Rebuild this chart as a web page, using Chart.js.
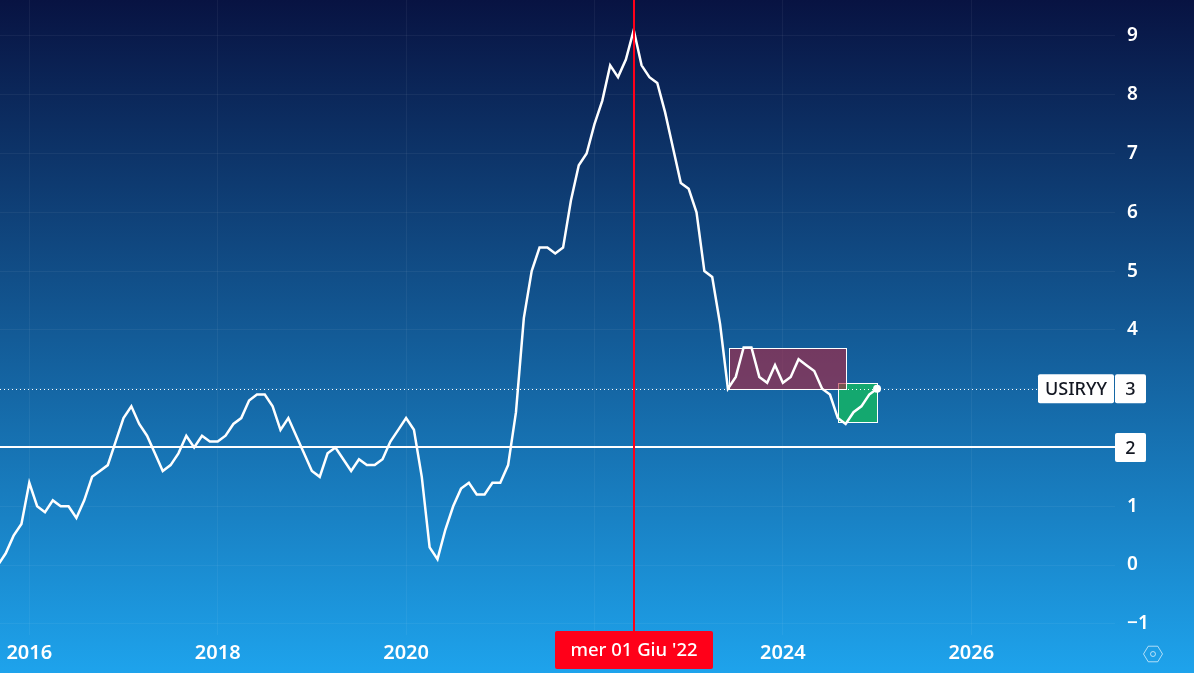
<!DOCTYPE html>
<html>
<head>
<meta charset="utf-8">
<title>USIRYY</title>
<script src="https://cdn.jsdelivr.net/npm/chart.js@4/dist/chart.umd.min.js"></script>
<style>
  html, body { margin: 0; padding: 0; background: #1ea2eb; overflow: hidden; }
  canvas { display: block; }
</style>
</head>
<body>
<canvas id="myChart" width="1194" height="673"></canvas>
<script>
// monthly values, first one is Sep 2015
var startYear = 2015;
var startMonth = 8;
var inflation = [
    0.0, 0.2, 0.5, 0.7,
    1.4, 1.0, 0.9, 1.1, 1.0, 1.0, 0.8, 1.1, 1.5, 1.6, 1.7, 2.1,
    2.5, 2.7, 2.4, 2.2, 1.9, 1.6, 1.7, 1.9, 2.2, 2.0, 2.2, 2.1,
    2.1, 2.2, 2.4, 2.5, 2.8, 2.9, 2.9, 2.7, 2.3, 2.5, 2.2, 1.9,
    1.6, 1.5, 1.9, 2.0, 1.8, 1.6, 1.8, 1.7, 1.7, 1.8, 2.1, 2.3,
    2.5, 2.3, 1.5, 0.3, 0.1, 0.6, 1.0, 1.3, 1.4, 1.2, 1.2, 1.4,
    1.4, 1.7, 2.6, 4.2, 5.0, 5.4, 5.4, 5.3, 5.4, 6.2, 6.8, 7.0,
    7.5, 7.9, 8.5, 8.3, 8.6, 9.1, 8.5, 8.3, 8.2, 7.7, 7.1, 6.5,
    6.4, 6.0, 5.0, 4.9, 4.1, 3.0, 3.2, 3.7, 3.7, 3.2, 3.1, 3.4,
    3.1, 3.2, 3.5, 3.4, 3.3, 3.0, 2.9, 2.5, 2.4, 2.6, 2.7, 2.9,
    3.0
];
var yearTicks = [2016, 2018, 2020, 2022, 2024, 2026];
var hiddenYearLabels = [2022];
var valueTicks = [-1, 0, 1, 2, 3, 4, 5, 6, 7, 8, 9];
var boxedValues = [2, 3];
var xRange = [2015.689, 2027.526];
var yRange = [-1.19, 9.612];

var seriesName = 'USIRYY';
var lastValue = 3;
var targetValue = 2;
var cursorYear = 2022.417;
var cursorLabel = "mer 01 Giu '22";
// [x from, x to, y from, y to]
var greenBox = [2024.583, 2025.0, 2.43, 3.1];
var purpleBox = [2023.425, 2024.667, 3.0, 3.7];

var points = inflation.map(function(v, i) {
    return { x: startYear + (startMonth + i) / 12, y: v };
});

var fontName = '"Noto Sans", sans-serif';

function drawBox(ctx, chart, box, fill) {
    var x = chart.scales.x, y = chart.scales.y;
    var left = Math.round(x.getPixelForValue(box[0])) + 0.5;
    var right = Math.round(x.getPixelForValue(box[1])) + 0.5;
    var top = Math.round(y.getPixelForValue(box[3])) + 0.5;
    var bottom = Math.round(y.getPixelForValue(box[2])) + 0.5;
    ctx.fillStyle = fill;
    ctx.fillRect(left, top, right - left, bottom - top);
    ctx.strokeStyle = '#ffffff';
    ctx.lineWidth = 1;
    ctx.strokeRect(left, top, right - left, bottom - top);
}

function tag(ctx, left, top, w, h, text, color, textColor, font) {
    ctx.fillStyle = color;
    ctx.beginPath();
    ctx.roundRect(left, top, w, h, 2);
    ctx.fill();
    ctx.fillStyle = textColor;
    ctx.font = font;
    ctx.textAlign = 'center';
    ctx.textBaseline = 'middle';
    ctx.fillText(text, left + w / 2, top + h / 2 + 1);
}

var decorations = {
    id: 'decorations',
    beforeDraw: function(chart) {
        var ctx = chart.ctx;
        var g = ctx.createLinearGradient(0, 0, 0, chart.height);
        g.addColorStop(0, '#081342');
        g.addColorStop(1, '#1ea3ec');
        ctx.fillStyle = g;
        ctx.fillRect(0, 0, chart.width, chart.height);
    },
    beforeDatasetsDraw: function(chart) {
        var ctx = chart.ctx;
        var y = chart.scales.y;
        ctx.save();
        drawBox(ctx, chart, greenBox, '#14a86f');
        drawBox(ctx, chart, purpleBox, 'rgba(180,33,58,0.6)');

        // dotted last value line, solid target line
        var y3 = Math.round(y.getPixelForValue(lastValue)) + 0.5;
        ctx.strokeStyle = '#ffffff';
        ctx.lineWidth = 1;
        ctx.setLineDash([1, 3]);
        ctx.beginPath();
        ctx.moveTo(0, y3);
        ctx.lineTo(1038, y3);
        ctx.stroke();
        ctx.setLineDash([]);
        var y2 = Math.round(y.getPixelForValue(targetValue));
        ctx.lineWidth = 2;
        ctx.beginPath();
        ctx.moveTo(0, y2);
        ctx.lineTo(1115, y2);
        ctx.stroke();
        ctx.restore();
    },
    afterDatasetsDraw: function(chart) {
        var ctx = chart.ctx;
        var x = chart.scales.x, y = chart.scales.y;
        ctx.save();

        var cx = Math.round(x.getPixelForValue(cursorYear));
        ctx.strokeStyle = '#ff0019';
        ctx.lineWidth = 2;
        ctx.beginPath();
        ctx.moveTo(cx, 0);
        ctx.lineTo(cx, 632);
        ctx.stroke();
        tag(ctx, 555, 631, 158, 38, cursorLabel, '#ff0019', '#ffffff', '500 18.5px ' + fontName);

        var font = '500 18px ' + fontName;
        var y3 = y.getPixelForValue(lastValue);
        var y2 = y.getPixelForValue(targetValue);
        tag(ctx, 1038, y3 - 14.5, 76, 29, seriesName, '#ffffff', '#131722', font);
        tag(ctx, 1115, y3 - 14.5, 31, 29, String(lastValue), '#ffffff', '#131722', font);
        tag(ctx, 1115, y2 - 14.5, 31, 29, String(targetValue), '#ffffff', '#131722', font);

        // settings icon, bottom right
        ctx.strokeStyle = 'rgba(255,255,255,0.65)';
        ctx.lineWidth = 1;
        ctx.beginPath();
        for (var i = 0; i < 6; i++) {
            var a = Math.PI / 3 * i;
            var px = 1153 + 9.5 * Math.cos(a), py = 654 + 9 * Math.sin(a);
            if (i == 0) ctx.moveTo(px, py); else ctx.lineTo(px, py);
        }
        ctx.closePath();
        ctx.stroke();
        ctx.beginPath();
        ctx.arc(1153, 654, 2.5, 0, Math.PI * 2);
        ctx.stroke();
        ctx.restore();
    }
};

var myChart = new Chart(document.getElementById('myChart').getContext('2d'), {
    type: 'line',
    data: {
        datasets: [{
            label: seriesName,
            data: points,
            borderColor: '#ffffff',
            backgroundColor: '#ffffff',
            borderWidth: 2.5,
            tension: 0,
            pointRadius: function(c) { return c.dataIndex == points.length - 1 ? 4 : 0; },
            pointBorderWidth: 0
        }]
    },
    options: {
        responsive: false,
        animation: false,
        layout: { padding: 0, autoPadding: false },
        plugins: { legend: { display: false }, tooltip: { enabled: false } },
        scales: {
            x: {
                type: 'linear',
                min: xRange[0],
                max: xRange[1],
                afterBuildTicks: function(s) { s.ticks = yearTicks.map(function(v) { return { value: v }; }); },
                afterFit: function(s) {
                    s.height = 38;
                    s.paddingLeft = 0;
                    s.paddingRight = 0;
                },
                grid: { color: 'rgba(255,255,255,0.05)', tickLength: 0 },
                border: { display: false },
                ticks: {
                    autoSkip: false,
                    maxRotation: 0,
                    padding: 6,
                    color: '#ffffff',
                    font: { family: fontName, size: 20, weight: '600' },
                    callback: function(v) { return hiddenYearLabels.indexOf(v) >= 0 ? '' : String(v); }
                }
            },
            y: {
                position: 'right',
                min: yRange[0],
                max: yRange[1],
                afterBuildTicks: function(s) { s.ticks = valueTicks.map(function(v) { return { value: v }; }); },
                afterFit: function(s) {
                    s.width = 79;
                    s.paddingTop = 0;
                    s.paddingBottom = 0;
                },
                grid: { color: 'rgba(255,255,255,0.05)', tickLength: 0 },
                border: { display: false },
                ticks: {
                    padding: 12,
                    crossAlign: 'near',
                    color: '#ffffff',
                    font: { family: fontName, size: 19, weight: '600' },
                    callback: function(v) {
                        if (boxedValues.indexOf(v) >= 0) return '';
                        return v < 0 ? '\u2212' + Math.abs(v) : String(v);
                    }
                }
            }
        }
    },
    plugins: [decorations]
});
</script>
</body>
</html>
